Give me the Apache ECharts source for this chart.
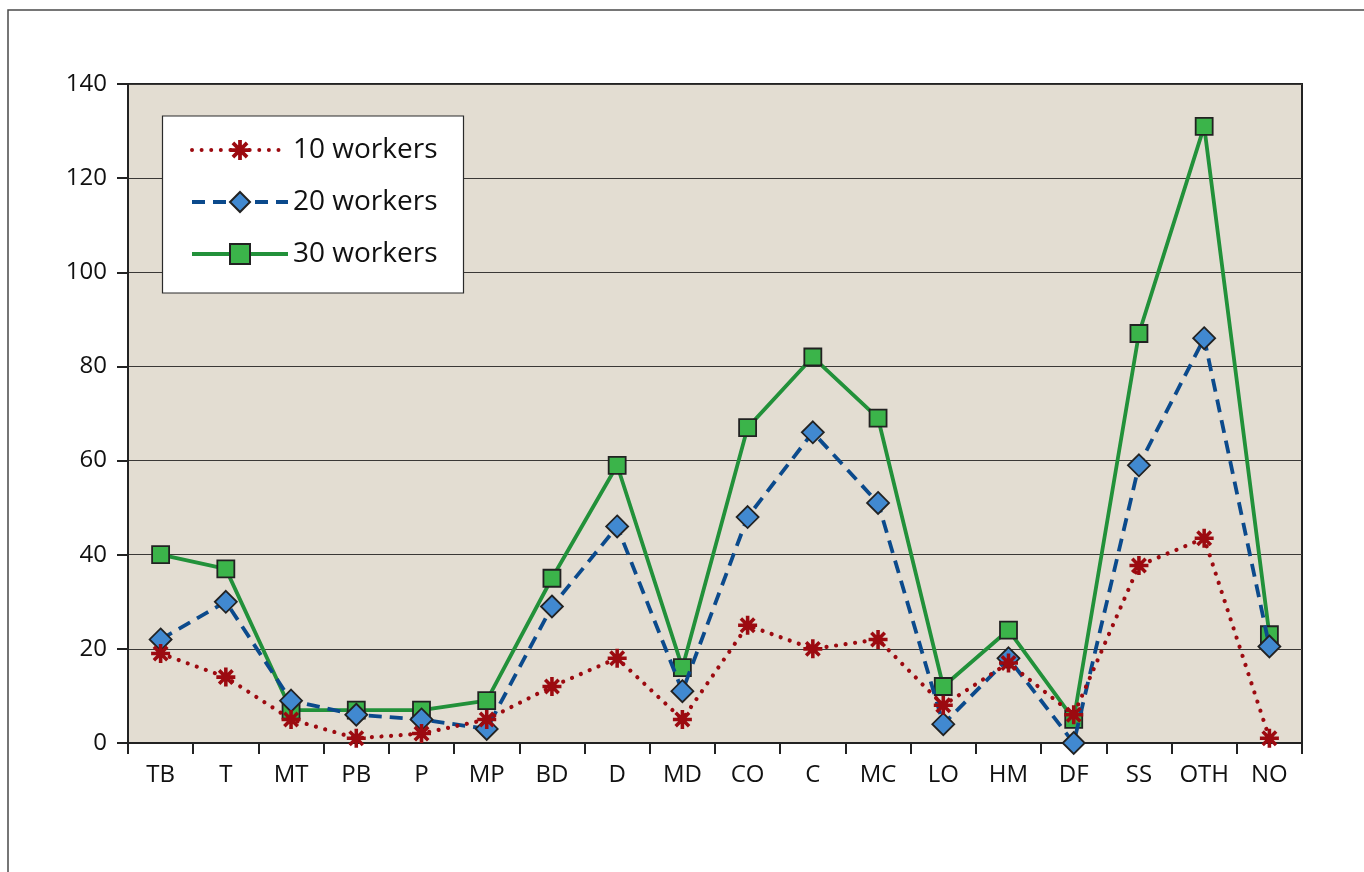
<!DOCTYPE html>
<html>
<head>
<meta charset="utf-8">
<style>
  html, body { margin: 0; padding: 0; background: #ffffff; }
  #chart { width: 1364px; height: 872px; }
</style>
<script src="https://cdn.jsdelivr.net/npm/echarts@6/dist/echarts.min.js"></script>
</head>
<body>
<div id="chart"></div>
<script>
// Occupational categories along the x axis
const categories = ['TB', 'T', 'MT', 'PB', 'P', 'MP', 'BD', 'D', 'MD', 'CO', 'C', 'MC', 'LO', 'HM', 'DF', 'SS', 'OTH', 'NO'];

// Counts per category for each team size
const workers10 = [19, 14, 5, 1, 2, 5, 12, 18, 5, 25, 20, 22, 8, 17, 6, 37.7, 43.5, 1];
const workers20 = [22, 30, 9, 6, 5, 3, 29, 46, 11, 48, 66, 51, 4, 18, 0, 59, 86, 20.5];
const workers30 = [40, 37, 7, 7, 7, 9, 35, 59, 16, 67, 82, 69, 12, 24, 5, 87, 131, 23];

const seriesNames = ['10 workers', '20 workers', '30 workers'];

// Y axis range and step
const yMin = 0, yMax = 140, yStep = 20;

const FONT = '"Open Sans", "Noto Sans", sans-serif';

// Eight-spoke asterisk marker
const asterisk = 'path://M2 41 L98 41 L98 59 L2 59 Z ' +
  'M41 2 L59 2 L59 98 L41 98 Z ' +
  'M9.7 22.42 L22.42 9.7 L90.3 77.58 L77.58 90.3 Z ' +
  'M9.7 77.58 L77.58 9.7 L90.3 22.42 L22.42 90.3 Z';

const chart = echarts.init(document.getElementById('chart'), null, { renderer: 'canvas' });

chart.setOption({
  animation: false,
  backgroundColor: '#ffffff',
  textStyle: { fontFamily: FONT },
  graphic: [
    {
      type: 'rect',
      z: 0,
      shape: { x: 8, y: 10, width: 1400, height: 900 },
      style: { fill: 'none', stroke: '#4a4a4a', lineWidth: 1.5 }
    },
    {
      type: 'rect',
      z: 50,
      shape: { x: 162.5, y: 116, width: 301, height: 177 },
      style: { fill: '#ffffff', stroke: '#2a2a2a', lineWidth: 1.2 }
    }
  ],
  grid: {
    left: 128, top: 84, right: 62, bottom: 129,
    show: true,
    backgroundColor: '#e3ddd2',
    borderColor: '#222222',
    borderWidth: 2
  },
  legend: {
    z: 60,
    orient: 'vertical',
    left: 185,
    top: 131,
    itemWidth: 96,
    itemHeight: 25,
    itemGap: 24,
    data: seriesNames,
    lineStyle: { width: 4 },
    textStyle: {
      fontFamily: FONT,
      fontSize: 28,
      color: '#111111',
      lineHeight: 25,
      padding: [0, 0, 0, 0]
    }
  },
  xAxis: {
    type: 'category',
    data: categories,
    boundaryGap: true,
    axisLine: { show: true, lineStyle: { color: '#222222', width: 2 } },
    axisTick: { show: true, length: 11, alignWithLabel: false, lineStyle: { color: '#222222', width: 2 } },
    axisLabel: { fontFamily: FONT, fontSize: 24, color: '#111111', margin: 20, interval: 0 },
    splitLine: { show: false }
  },
  yAxis: {
    type: 'value',
    min: yMin, max: yMax, interval: yStep,
    axisLine: { show: true, lineStyle: { color: '#222222', width: 2 } },
    axisTick: { show: true, length: 11, lineStyle: { color: '#222222', width: 2 } },
    axisLabel: { fontFamily: FONT, fontSize: 24, color: '#111111', margin: 21 },
    splitLine: { show: true, lineStyle: { color: '#3a3836', width: 1.2 } }
  },
  series: [
    {
      name: seriesNames[0],
      type: 'line',
      data: workers10,
      z: 4,
      symbol: asterisk,
      symbolSize: 19,
      itemStyle: { color: '#9c0a10', borderColor: '#9c0a10', borderWidth: 0 },
      lineStyle: { color: '#9c0a10', width: 4.2, type: [0.01, 9.6], cap: 'round' }
    },
    {
      name: seriesNames[1],
      type: 'line',
      data: workers20,
      z: 3,
      symbol: 'diamond',
      symbolSize: 22,
      itemStyle: { color: '#4189d0', borderColor: '#222222', borderWidth: 1.8 },
      lineStyle: { color: '#0b4a8c', width: 3.8, type: [13, 8] }
    },
    {
      name: seriesNames[2],
      type: 'line',
      data: workers30,
      z: 2,
      symbol: 'rect',
      symbolSize: 17,
      itemStyle: { color: '#3bb44a', borderColor: '#222222', borderWidth: 1.8 },
      lineStyle: { color: '#22913a', width: 3.8, type: 'solid' }
    }
  ]
});
</script>
</body>
</html>
